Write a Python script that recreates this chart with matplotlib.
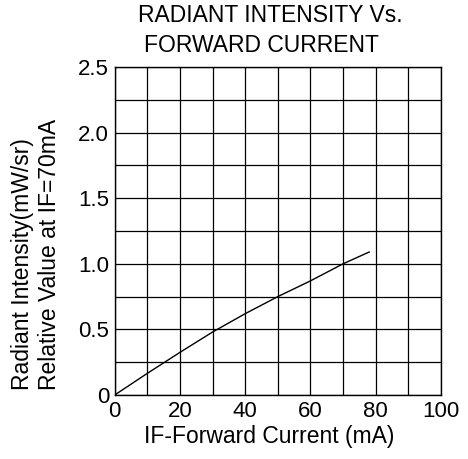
import matplotlib
matplotlib.use("Agg")
import matplotlib.pyplot as plt
from matplotlib.ticker import MultipleLocator

plt.rcParams['font.family'] = ['Liberation Sans', 'DejaVu Sans']

current_ma = [0, 10, 20, 30, 40, 50, 60, 70, 78]
intensity = [0, 0.165, 0.325, 0.48, 0.62, 0.75, 0.87, 1.0, 1.09]

x_ticks = [0, 20, 40, 60, 80, 100]
y_ticks = [0, 0.5, 1.0, 1.5, 2.0, 2.5]
y_tick_labels = ["0", "0.5", "1.0", "1.5", "2.0", "2.5"]

fig = plt.figure(figsize=(4.68, 4.59), dpi=100)
ax = fig.add_axes([114.7/468, 1-395/459, (441-114.7)/468, (395-67)/459])

ax.plot(current_ma, intensity, color='black', lw=1.0)
ax.set_xlim(0, 100)
ax.set_ylim(0, 2.5)
ax.set_xticks(x_ticks)
ax.set_yticks(y_ticks)
ax.set_yticklabels(y_tick_labels)
ax.xaxis.set_minor_locator(MultipleLocator(10))
ax.yaxis.set_minor_locator(MultipleLocator(0.25))
ax.grid(True, which='both', color='black', lw=0.9)
ax.tick_params(which='both', length=0, labelsize=16, colors='black', pad=4)
for s in ax.spines.values():
    s.set_color('black')
    s.set_linewidth(1.0)

fs = 16.5
fig.text(270/468, 1-16/459, "RADIANT INTENSITY Vs.", ha='center', va='center', fontsize=fs)
fig.text(261/468, 1-46/459, "FORWARD CURRENT", ha='center', va='center', fontsize=fs)
fig.text(269/468, 1-437/459, "IF-Forward Current (mA)", ha='center', va='center', fontsize=fs)
fig.text(23/468, 1-390/459, "Radiant Intensity(mW/sr)", rotation=90, ha='center', va='bottom', fontsize=fs)
fig.text(50/468, 1-390/459, "Relative Value at IF=70mA", rotation=90, ha='center', va='bottom', fontsize=fs)

fig.savefig("out.png", dpi=100)
